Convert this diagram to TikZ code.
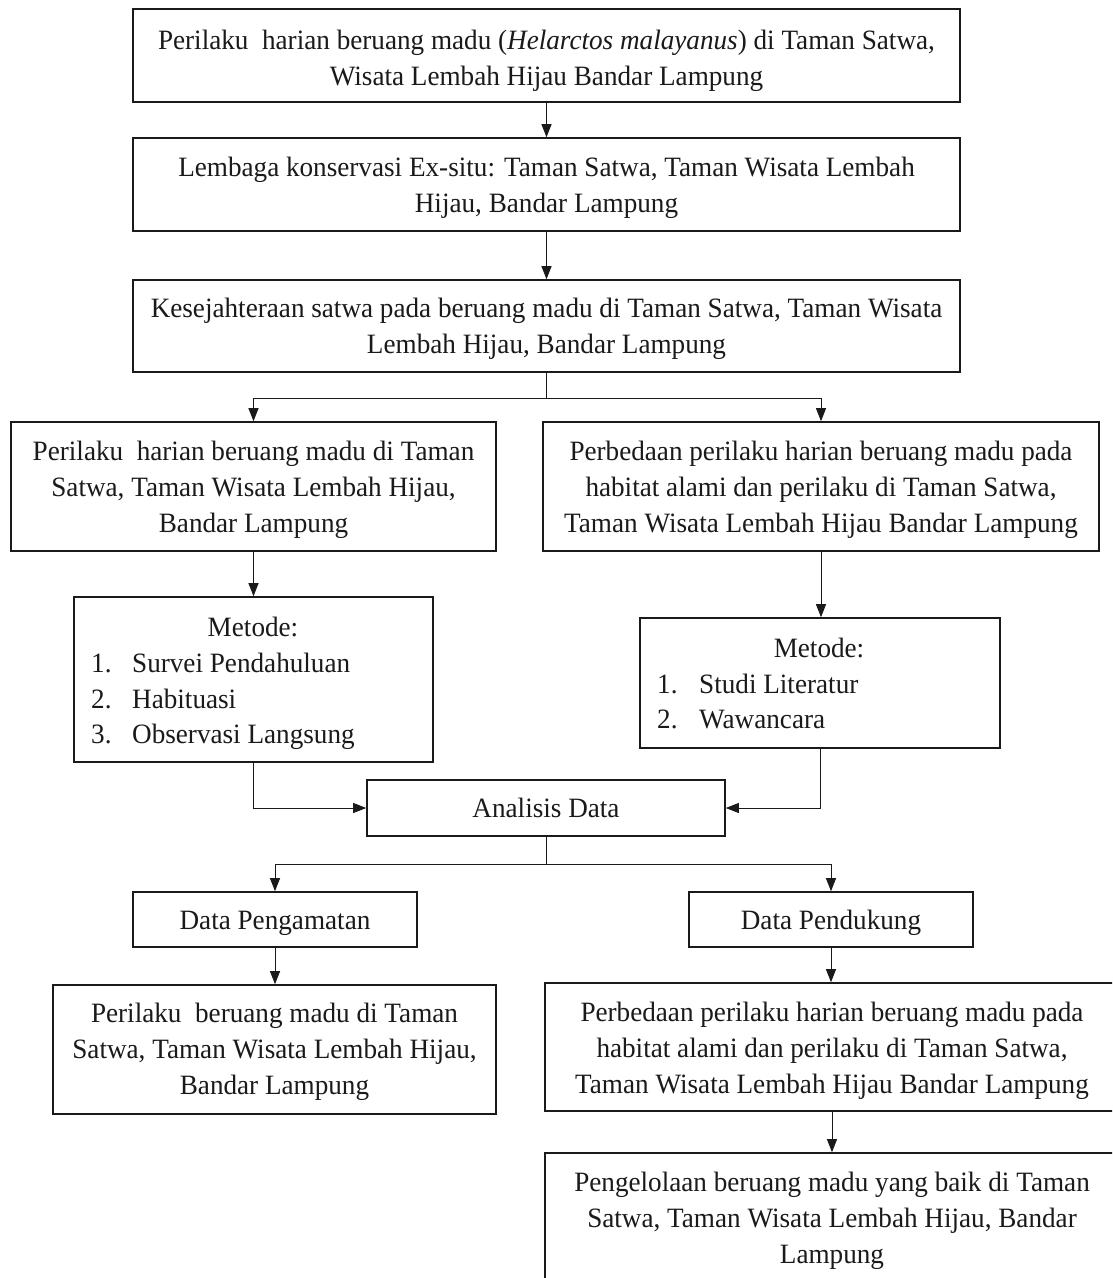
\documentclass[tikz,border=0pt]{standalone}
\usepackage{fontspec}
\setmainfont{Liberation Serif}[FakeStretch=0.97]
\usetikzlibrary{arrows.meta}
\definecolor{ink}{HTML}{1A1A1A}
\begin{document}
\begin{tikzpicture}[x=1pt,y=-1pt,
  box/.style={draw=ink,line width=1.6pt,inner sep=0pt,rectangle},
  txt/.style={inner sep=0pt,align=center,text=ink,font=\fontsize{28}{36}\selectfont},
  ltxt/.style={inner sep=0pt,text=ink,font=\fontsize{28}{36}\selectfont},
  conn/.style={draw=ink,line width=0.9pt},
  arr/.style={conn,-{Triangle[length=13pt,width=10pt]}}]
\useasboundingbox (0,0) rectangle (1112,1278);
\clip (0,0) rectangle (1112,1278);
\fill[white] (0,0) rectangle (1112,1278);

% boxes
\node[box,minimum width=827,minimum height=93] (b1) at (546.5,55.5) {};
\node[box,minimum width=827,minimum height=93] (b2) at (546.5,184.5) {};
\node[box,minimum width=827,minimum height=92] (b3) at (546.5,326) {};
\node[box,minimum width=485,minimum height=129] (b4) at (253.5,486.5) {};
\node[box,minimum width=556,minimum height=129] (b5) at (821,486.5) {};
\node[box,minimum width=359,minimum height=165] (b6) at (253.5,679.5) {};
\node[box,minimum width=360,minimum height=130] (b7) at (820,683) {};
\node[box,minimum width=358,minimum height=56] (b8) at (546,808) {};
\node[box,minimum width=284,minimum height=55] (b9) at (275,919.5) {};
\node[box,minimum width=284,minimum height=55] (b10) at (831,919.5) {};
\node[box,minimum width=443,minimum height=129] (b11) at (274.5,1049.5) {};
\node[box,minimum width=574,minimum height=128] (b12) at (832,1047) {};
\node[box,minimum width=574,minimum height=147] (b13) at (832,1226.5) {};

% texts
\node[txt] (t1) at (546.5,61) {Perilaku\ \ harian beruang madu (\textit{Helarctos malayanus}) di Taman Satwa,\\Wisata Lembah Hijau Bandar Lampung};
\node[txt] (t2) at (546.5,188) {Lembaga konservasi Ex-situ: Taman Satwa, Taman Wisata Lembah\\Hijau, Bandar Lampung};
\node[txt] (t3) at (546.5,329) {Kesejahteraan satwa pada beruang madu di Taman Satwa, Taman Wisata\\Lembah Hijau, Bandar Lampung};
\node[txt] (t4) at (253.5,490) {Perilaku\ \ harian beruang madu di Taman\\Satwa, Taman Wisata Lembah Hijau,\\Bandar Lampung};
\node[txt] (t5) at (821,490) {Perbedaan perilaku harian beruang madu pada\\habitat alami dan perilaku di Taman Satwa,\\Taman Wisata Lembah Hijau Bandar Lampung};

\node[ltxt,anchor=base] (m6h) at (253,636) {Metode:};
\node[ltxt,anchor=base west] (m6a) at (91,672) {\makebox[41pt][l]{1.}Survei Pendahuluan};
\node[ltxt,anchor=base west] (m6b) at (91,708) {\makebox[41pt][l]{2.}Habituasi};
\node[ltxt,anchor=base west] (m6c) at (91,743) {\makebox[41pt][l]{3.}Observasi Langsung};

\node[ltxt,anchor=base] (m7h) at (819,657) {Metode:};
\node[ltxt,anchor=base west] (m7a) at (657,693) {\makebox[42pt][l]{1.}Studi Literatur};
\node[ltxt,anchor=base west] (m7b) at (657,728) {\makebox[42pt][l]{2.}Wawancara};

\node[ltxt,anchor=base] (t8) at (546,817) {Analisis Data};
\node[ltxt,anchor=base] (t9) at (275,929) {Data Pengamatan};
\node[ltxt,anchor=base] (t10) at (831,929) {Data Pendukung};

\node[txt] (t11) at (274.5,1052) {Perilaku\ \ beruang madu di Taman\\Satwa, Taman Wisata Lembah Hijau,\\Bandar Lampung};
\node[txt] (t12) at (832,1051) {Perbedaan perilaku harian beruang madu pada\\habitat alami dan perilaku di Taman Satwa,\\Taman Wisata Lembah Hijau Bandar Lampung};
\node[txt] (t13) at (832,1221) {Pengelolaan beruang madu yang baik di Taman\\Satwa, Taman Wisata Lembah Hijau, Bandar\\Lampung};

% connectors
\coordinate (j1) at (546.5,398);
\coordinate (j2) at (546,864);
\draw[arr] (b1.south) -- (b2.north);
\draw[arr] (b2.south) -- (b3.north);
\draw[conn] (b3.south) -- (j1);
\draw[arr] (j1) -| (b4.north);
\draw[arr] (j1) -| (b5.north);
\draw[arr] (b4.south) -- (b6.north);
\draw[arr] (b5.south) -- (b5.south |- b7.north);
\draw[arr] (b6.south) |- (b8.west);
\draw[arr] (b7.south) |- (b8.east);
\draw[conn] (b8.south) -- (j2);
\draw[arr] (j2) -| (b9.north);
\draw[arr] (j2) -| (b10.north);
\draw[arr] (b9.south) -- (b9.south |- b11.north);
\draw[arr] (b10.south) -- (b10.south |- b12.north);
\draw[arr] (b12.south) -- (b13.north);
\end{tikzpicture}
\end{document}
